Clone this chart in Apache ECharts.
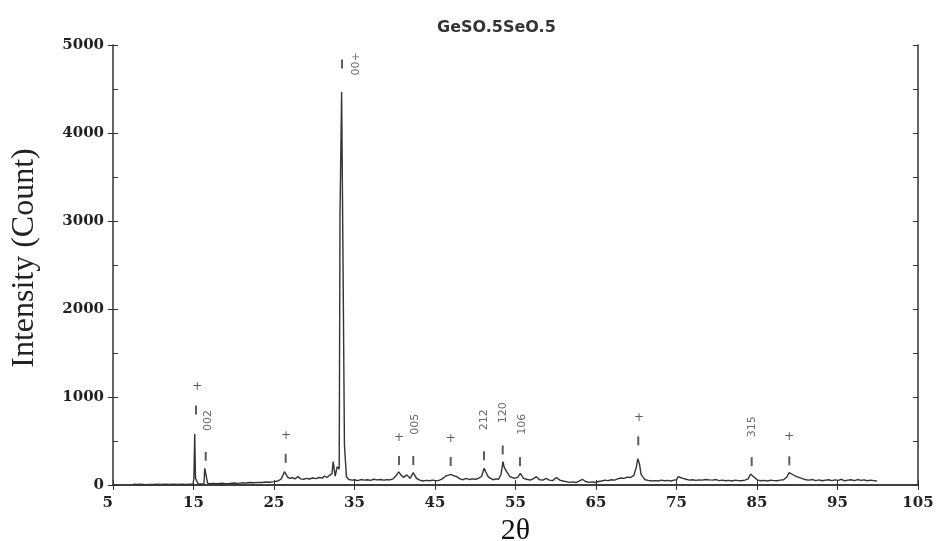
<!DOCTYPE html>
<html>
<head>
<meta charset="utf-8">
<script src="https://cdn.jsdelivr.net/npm/echarts@6/dist/echarts.min.js"></script>
<style>html,body{margin:0;padding:0;background:#fff;}#chart{width:945px;height:541px;}</style>
</head>
<body>
<div id="chart"></div>
<script>
// ---- data ----
const titleText = 'GeSO.5SeO.5';
const xTitle = '2θ';
const yTitle = 'Intensity (Count)';

// [2θ, count]
const xrd = [
[7.5,10],[8,5],[8.5,8],[9,4],[9.5,6],[10,5],[10.5,8],[11,5],[11.5,9],[12,6],[12.5,8],[13,6],[13.5,9],[14,7],[14.5,10],
[14.95,10],[15.05,80],[15.15,580],[15.25,80],[15.45,70],[15.55,14],[15.9,12],[16.3,15],[16.4,190],[16.6,170],[16.75,20],
[17,15],[17.5,18],[18,15],[18.5,20],[19,16],[19.5,18],[20,22],[20.5,18],[21,24],[21.5,22],[22,28],[22.5,25],[23,30],[23.5,28],
[24,34],[24.5,32],[25,38],[25.5,45],[25.9,70],[26.3,151],[26.5,120],[26.7,88],[27,75],[27.3,85],[27.6,70],[28,95],[28.3,70],
[28.7,65],[29,75],[29.4,68],[29.8,80],[30.2,72],[30.6,85],[31,78],[31.3,102],[31.6,85],[31.9,110],[32.2,130],[32.35,265],
[32.5,250],[32.6,100],[32.75,110],[32.85,208],[33,200],[33.1,180],[33.2,3070],[33.3,3070],[33.4,4470],[33.5,4470],[33.6,2240],
[33.7,2240],[33.75,455],[33.9,455],[34,90],[34.3,62],[34.7,55],[35,60],[35.4,50],[35.8,62],[36.2,55],[36.6,60],[37,52],
[37.4,65],[37.8,58],[38.2,62],[38.6,55],[39,60],[39.4,58],[39.8,70],[40.2,110],[40.5,150],[40.8,110],[41.1,87],[41.5,115],
[41.9,76],[42.3,140],[42.7,76],[43.1,55],[43.5,45],[43.9,52],[44.3,48],[44.7,55],[45.1,48],[45.5,52],[45.9,70],[46.3,100],
[46.6,110],[47,121],[47.3,105],[47.7,95],[48.1,70],[48.5,60],[48.9,75],[49.3,62],[49.7,70],[50.1,65],[50.5,80],[50.8,100],
[51.1,190],[51.3,150],[51.6,95],[51.9,75],[52.2,60],[52.6,70],[52.9,65],[53.2,120],[53.45,265],[53.6,200],[53.9,151],
[54.3,95],[54.6,85],[54.9,76],[55.3,90],[55.6,133],[56,76],[56.4,65],[56.8,55],[57.2,70],[57.6,95],[58,60],[58.4,55],
[58.8,75],[59.2,55],[59.6,50],[60.1,85],[60.5,55],[60.9,45],[61.3,38],[61.7,30],[62.1,35],[62.5,28],[62.9,45],[63.3,65],
[63.7,40],[64.1,30],[64.5,35],[64.9,28],[65.3,40],[65.7,45],[66.1,55],[66.5,50],[66.9,60],[67.3,55],[67.7,70],[68.1,80],
[68.5,75],[68.9,90],[69.3,85],[69.7,110],[70,200],[70.2,300],[70.4,240],[70.6,120],[70.8,95],[71.1,60],[71.5,52],[71.9,45],
[72.3,50],[72.7,45],[73.1,55],[73.5,48],[73.9,52],[74.3,45],[74.7,55],[75,60],[75.2,95],[75.5,85],[75.8,76],[76.2,65],
[76.6,55],[77,60],[77.4,52],[77.8,58],[78.2,55],[78.6,62],[78.8,76],[79.1,58],[79.5,55],[79.9,62],[80.3,50],[80.7,55],
[81.1,48],[81.5,52],[81.9,45],[82.3,55],[82.7,50],[83.1,48],[83.5,55],[83.9,70],[84.2,125],[84.5,100],[84.8,76],[85.1,55],
[85.5,48],[85.9,52],[86.3,45],[86.7,55],[87.1,50],[87.5,48],[87.9,55],[88.3,60],[88.7,90],[89,140],[89.3,125],[89.5,114],
[89.9,95],[90.3,83],[90.7,70],[91.1,60],[91.5,55],[91.9,62],[92.3,50],[92.7,58],[93.1,48],[93.5,55],[93.9,60],[94.3,50],
[94.7,58],[95.1,52],[95.5,65],[95.9,48],[96.3,55],[96.7,60],[97.1,50],[97.5,62],[97.9,52],[98.3,58],[98.7,48],[99.1,55],
[99.5,50],[99.9,45]
];

// peak marker dashes [2θ, count]
const peakDashes = [[15.31,852],[16.52,326],[26.45,303],[33.45,4784],[40.53,278],[42.30,278],[46.95,267],[51.09,332],[53.41,398],[55.56,265],[70.25,502],[84.34,265],[89.01,275]];
// "+" markers [2θ, count]
const plusMarks = [[15.47,1110],[26.49,557],[40.53,531],[46.95,519],[70.34,758],[89.01,542]];
// hkl labels
const hklNames = ['002','00+','005','212','120','106','315'];
const hklPos = [[16.84,733],[35.19,4784],[42.52,691],[51.12,741],[53.48,820],[55.77,691],[84.34,663]];

const xTicks = {min: 5, max: 105, interval: 10};
const yTicks = {min: 0, max: 5000, interval: 1000};

// ---- chart ----
const chart = echarts.init(document.getElementById('chart'), null, {renderer: 'canvas'});
const tickFont = {fontFamily: 'DejaVu Serif', fontWeight: 'bold', fontSize: 15, color: '#222'};
const axisLine = {show: true, lineStyle: {color: '#333', width: 1.5}};
const plain = v => String(v);

chart.setOption({
  animation: false,
  backgroundColor: '#fff',
  title: {
    text: titleText, left: 432, top: 15,
    textStyle: {fontFamily: 'DejaVu Sans', fontWeight: 'bold', fontSize: 16, color: '#333'}
  },
  grid: {left: 113, right: 27, top: 45, bottom: 56, containLabel: false, outerBoundsMode: 'none'},
  xAxis: [
    {type: 'value', position: 'bottom', min: xTicks.min, max: xTicks.max, interval: xTicks.interval,
     name: xTitle, nameLocation: 'middle', nameGap: 29,
     nameTextStyle: {fontFamily: 'Liberation Serif', fontSize: 30, color: '#111'},
     axisLine: axisLine, axisTick: {show: true, inside: true, length: 5, lineStyle: {color: '#333'}},
     axisLabel: Object.assign({margin: 11, formatter: plain, alignMinLabel: 'right'}, tickFont), splitLine: {show: false}},
    {type: 'value', position: 'top', min: xTicks.min, max: xTicks.max, interval: xTicks.interval,
     axisLine: axisLine, axisTick: {show: true, inside: true, length: 5, lineStyle: {color: '#333'}},
     axisLabel: {show: false}, splitLine: {show: false}}
  ],
  yAxis: [
    {type: 'value', position: 'left', min: yTicks.min, max: yTicks.max, interval: yTicks.interval,
     name: yTitle, nameLocation: 'middle', nameGap: 72, nameRotate: 90,
     nameTextStyle: {fontFamily: 'Liberation Serif', fontSize: 32, color: '#222', padding: [0, 0, 0, 14]},
     axisLine: axisLine, axisTick: {show: true, inside: false, length: 5, lineStyle: {color: '#333'}},
     axisLabel: Object.assign({margin: 9, formatter: plain}, tickFont), splitLine: {show: false}},
    {type: 'value', position: 'left', min: yTicks.min, max: yTicks.max, interval: yTicks.interval / 2,
     axisLine: {show: false}, axisTick: {show: true, inside: true, length: 5, lineStyle: {color: '#333'}},
     axisLabel: {show: false}, splitLine: {show: false}},
    {type: 'value', position: 'right', min: yTicks.min, max: yTicks.max, interval: yTicks.interval / 2,
     axisLine: axisLine, axisTick: {show: true, inside: true, length: 5, lineStyle: {color: '#333'}},
     axisLabel: {show: false}, splitLine: {show: false}}
  ],
  series: [
    {type: 'line', xAxisIndex: 0, yAxisIndex: 0, data: xrd, showSymbol: false, symbol: 'none',
     lineStyle: {color: '#333', width: 1.4}, z: 3},
    {type: 'scatter', xAxisIndex: 0, yAxisIndex: 0, data: peakDashes, symbol: 'rect', symbolSize: [2, 9],
     itemStyle: {color: '#333'}, z: 4},
    {type: 'scatter', xAxisIndex: 0, yAxisIndex: 0, data: plusMarks, symbol: 'circle', symbolSize: 1,
     itemStyle: {color: 'transparent'},
     label: {show: true, position: 'inside', formatter: '+', fontFamily: 'DejaVu Sans', fontSize: 12, color: '#333'}, z: 4},
    {type: 'scatter', xAxisIndex: 0, yAxisIndex: 0,
     data: hklPos.map((p, i) => ({value: p, name: hklNames[i]})),
     symbol: 'circle', symbolSize: 1, itemStyle: {color: 'transparent'},
     label: {show: true, position: 'inside', formatter: '{b}', rotate: 90, fontFamily: 'DejaVu Sans', fontSize: 11, color: '#444'}, z: 4}
  ]
});
</script>
</body>
</html>
